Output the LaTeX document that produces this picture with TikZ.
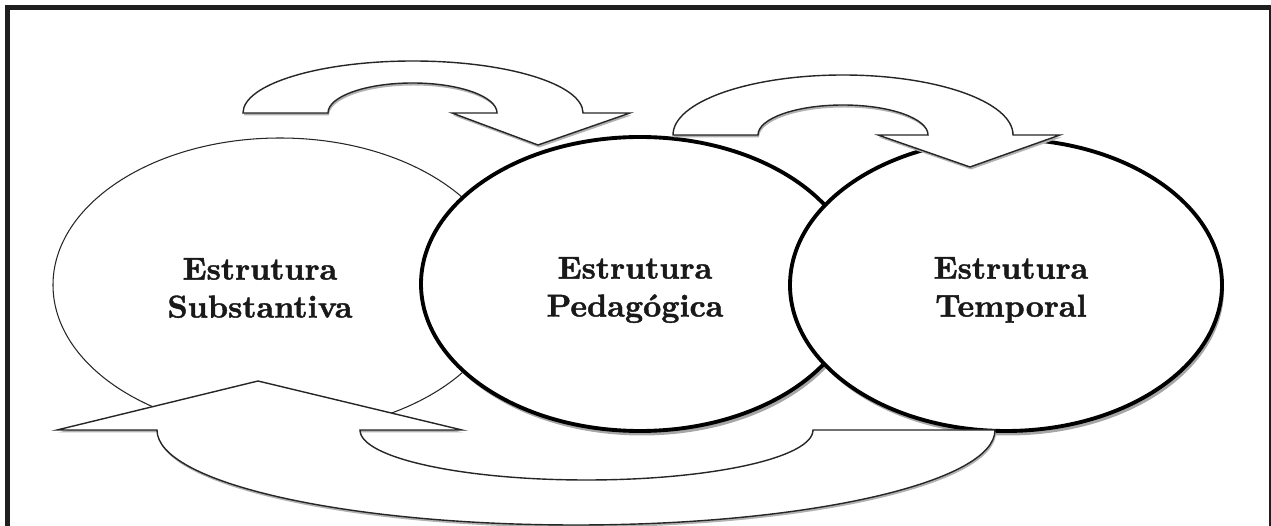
\documentclass[tikz,border=0pt]{standalone}
\usepackage{fontspec}
\usepackage{tikz}
\usetikzlibrary{shadows}
\tikzset{>=latex}
\newfontfamily\rotulofont{lmroman10-bold.otf}[FakeBold=1.3]
\tikzset{
	rotulo/.style={font=\fontsize{18}{21.6}\selectfont\rotulofont, align=center, inner sep=0pt, text=black!90},
	fina/.style={draw=black!85, line width=.6pt, fill=white},
	grossa/.style={draw=black, line width=2.2pt, fill=white, drop shadow={shadow xshift=.04cm, shadow yshift=-.09cm, fill=black!35, opacity=1}},
	seta/.style={draw=black!85, line width=.8pt, fill=white, drop shadow={shadow xshift=.02cm, shadow yshift=-.05cm, fill=black!30, opacity=1}}
}

\begin{document}
\begin{tikzpicture}[x=.02cm, y=-.02cm]
    \useasboundingbox(0, 0) rectangle (1271, 526);
    \draw[line width=.095cm, black!88](7.5, 530)--(7.5, 7.5)--(1271.5, 7.5)--(1271.5, 530);
    % elipses
    \draw[fina](280, 285) ellipse (227 and 147);
    \draw[grossa](640, 284) ellipse (219 and 147);
    \draw[grossa](1006, 285) ellipse (216 and 146);
    % setas de cima
    \draw[seta](243, 113) arc (180:360:170 and 52)--(630, 113)--(538, 145)--(452, 113)--(497, 113) arc (0:-180:84.5 and 30)--cycle;
    \draw[seta](673, 135) arc (180:360:170 and 60)--(1060, 135)--(970, 167)--(878, 135)--(928, 135) arc (0:-180:85 and 30)--cycle;
    % seta de baixo
    \draw[seta](258, 381)--(462, 430)--(360, 430) arc (180:0:226.5 and 50)--(995, 430) arc (0:180:419 and 95)--(57, 430)--cycle;
    \node[rotulo](sub) at(260, 288){Estrutura\\Substantiva};
    \node[rotulo](ped) at(635, 290){Estrutura\\Pedagógica};
    \node[rotulo](tmp) at(1011, 290){Estrutura\\Temporal};
\end{tikzpicture}
\end{document}
